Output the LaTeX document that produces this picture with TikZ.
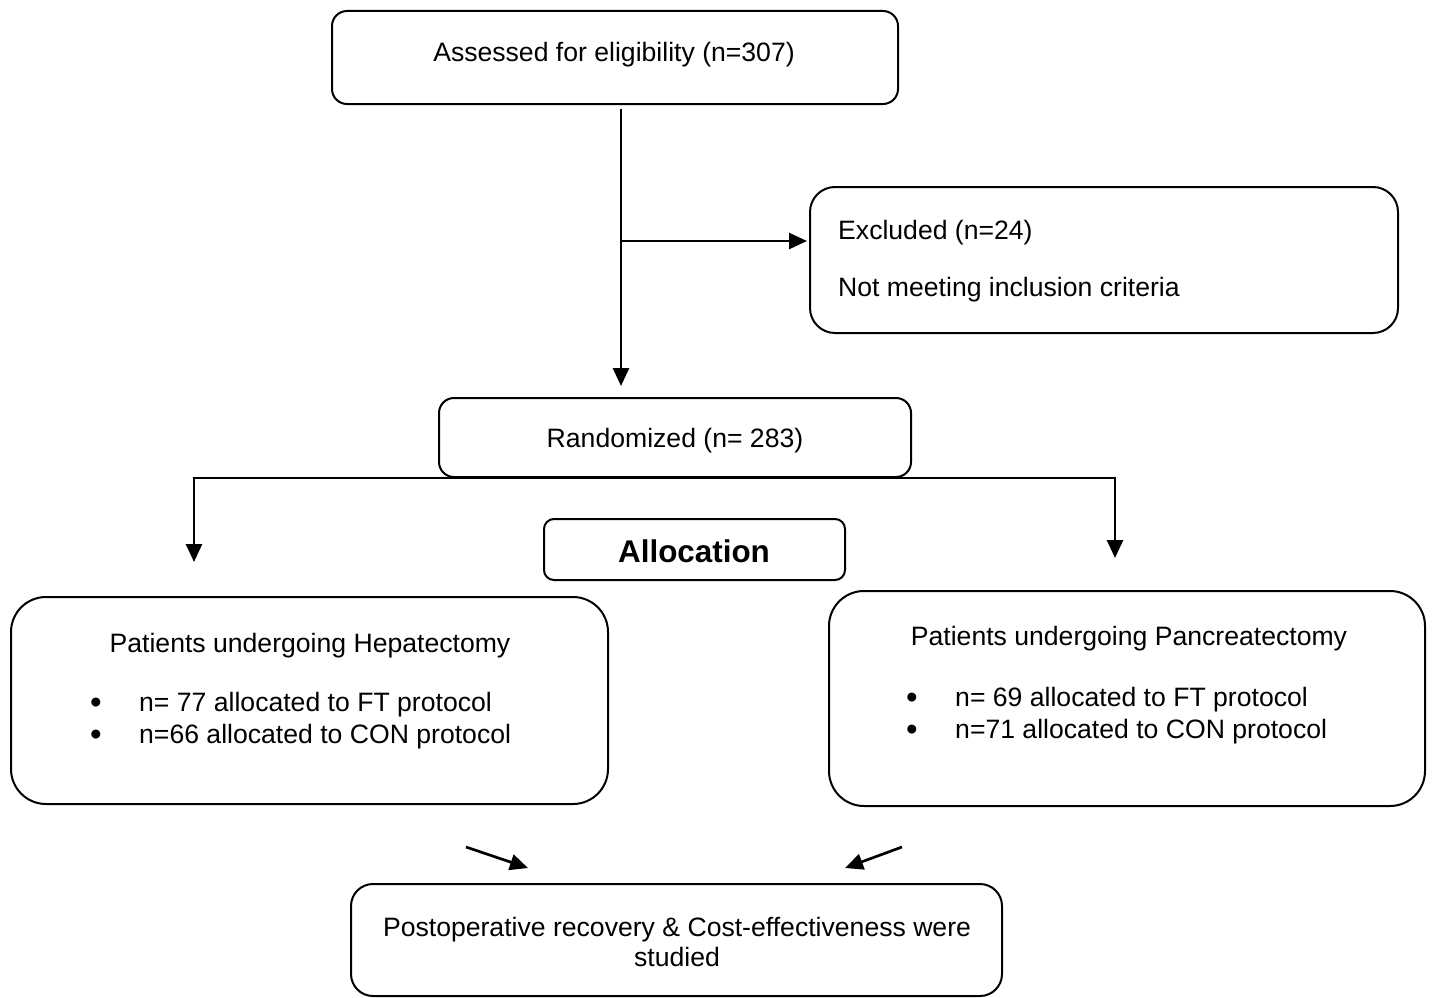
\documentclass[tikz,border=0pt]{standalone}
\usepackage{fontspec}
\setmainfont{Liberation Sans}
\usetikzlibrary{arrows.meta}
\begin{document}
\begin{tikzpicture}[x=1pt,y=-1pt,
  box/.style={draw, line width=2pt, rounded corners=#1, inner sep=0pt},
  box/.default=15pt,
  txt/.style={inner sep=0pt, anchor=base, font=\fontsize{26.6}{30}\selectfont},
  bul/.style={inner sep=0pt, anchor=base, font=\fontsize{33}{36}\selectfont},
  conn/.style={line width=2.7pt, -{Triangle[length=18pt,width=16pt]}},
  ln/.style={line width=2.7pt}]
\useasboundingbox (0,0) rectangle (1432,998);

% boxes
\node[box=15pt, minimum width=566pt, minimum height=93pt] (assess) at (615,57.5) {};
\node[box=25pt, minimum width=588pt, minimum height=146pt] (excl) at (1104,260) {};
\node[box=15pt, minimum width=472pt, minimum height=79pt] (rand) at (675,437.5) {};
\node[box=10pt, minimum width=301pt, minimum height=61pt] (alloc) at (694.5,549.5) {};
\node[box=35pt, minimum width=597pt, minimum height=207pt] (hep) at (309.5,700.5) {};
\node[box=35pt, minimum width=596pt, minimum height=215pt] (pan) at (1127,698.5) {};
\node[box=22pt, minimum width=651pt, minimum height=112pt] (post) at (676.5,940) {};

% texts
\node[txt] (t-assess) at (614,62) {Assessed for eligibility (n=307)};
\node[txt, anchor=base west] (t-excl1) at (838,239) {Excluded (n=24)};
\node[txt, anchor=base west] (t-excl2) at (838,296) {Not meeting inclusion criteria};
\node[txt] (t-rand) at (675,447) {Randomized (n= 283)};
\node[txt, font=\fontsize{31.4}{36}\selectfont\bfseries] (t-alloc) at (694,562) {Allocation};
\node[txt] (t-hep) at (310,652) {Patients undergoing Hepatectomy};
\node[bul] (hb1) at (96,713) {•};
\node[bul] (hb2) at (96,745) {•};
\node[txt, anchor=base west] (hl1) at (139,711) {n= 77 allocated to FT protocol};
\node[txt, anchor=base west] (hl2) at (139,743) {n=66 allocated to CON protocol};
\node[txt] (t-pan) at (1129,645) {Patients undergoing Pancreatectomy};
\node[bul] (pb1) at (912,708) {•};
\node[bul] (pb2) at (912,740) {•};
\node[txt, anchor=base west] (pl1) at (955,706) {n= 69 allocated to FT protocol};
\node[txt, anchor=base west] (pl2) at (955,738) {n=71 allocated to CON protocol};
\node[txt] (t-post1) at (677,936) {Postoperative recovery \& Cost-effectiveness were};
\node[txt] (t-post2) at (677,966) {studied};

% connector points
\coordinate (a1) at (621,109);
\coordinate (a2) at (621,386);
\coordinate (b1) at (621,241);
\coordinate (lt) at (194,562);
\coordinate (rt) at (1115,558);
\coordinate (d1) at (466,847);
\coordinate (d2) at (528,868);
\coordinate (d3) at (902,847);
\coordinate (d4) at (845,868);

% connectors
\draw[conn] (a1) -- (a2);
\draw[conn] (b1) -- ([xshift=-2pt]excl.west |- b1);
\draw[conn] (rand.south) -| (lt);
\draw[conn] (rand.south) -| (rt);
\draw[conn] (d1) -- (d2);
\draw[conn] (d3) -- (d4);
\end{tikzpicture}
\end{document}
